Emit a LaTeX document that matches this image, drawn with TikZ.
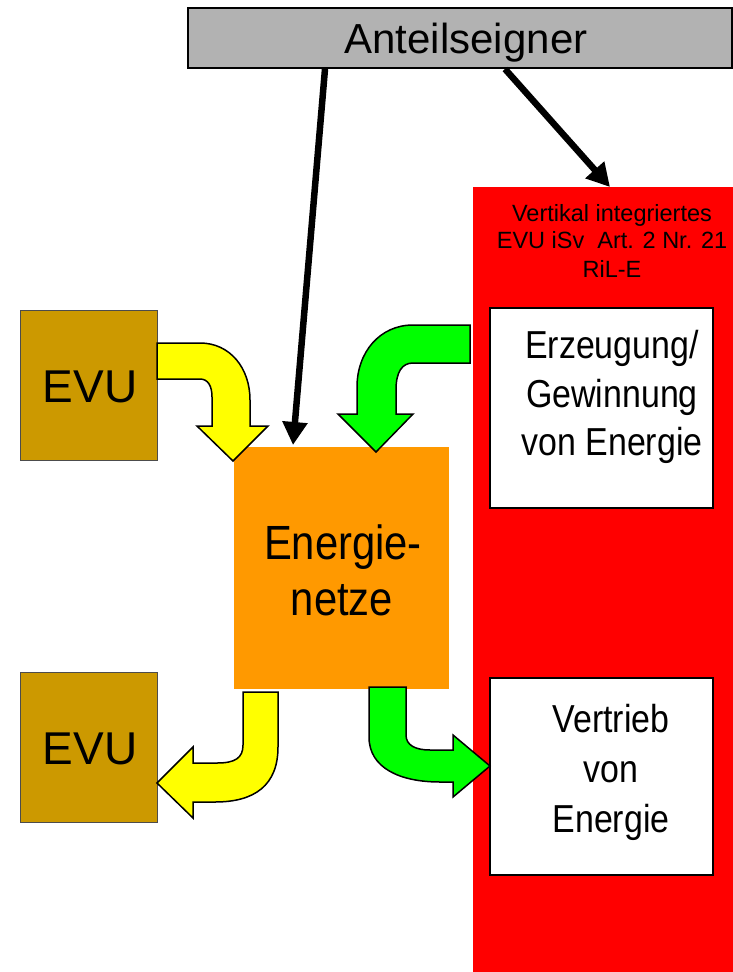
\documentclass[tikz,border=0pt]{standalone}
\usepackage{fontspec}
\setmainfont{Liberation Sans}
\newfontfamily\narrowfont{Liberation Sans}[FakeStretch=0.87]
\usetikzlibrary{arrows.meta}
\definecolor{antgray}{HTML}{B2B2B2}
\definecolor{evubrown}{HTML}{CC9900}
\definecolor{netzorange}{HTML}{FF9900}
\definecolor{arrowyellow}{HTML}{FFFF00}
\definecolor{arrowgreen}{HTML}{00FF00}
\definecolor{evured}{HTML}{FF0000}
\begin{document}
\begin{tikzpicture}[x=1pt,y=-1pt,
  box/.style={inner sep=0pt,outer sep=0pt,anchor=north west},
  outlined/.style={box,draw=black,line width=1.5pt},
  bigtxt/.style={anchor=base,inner sep=0pt,font=\narrowfont\fontsize{39}{39}\selectfont},
  smalltxt/.style={anchor=base,inner sep=0pt,font=\fontsize{23.5}{23.5}\selectfont},
  bentarrow/.style={draw=black,line width=1.5pt,line join=miter},
  blackarrow/.style={line width=6.5pt,-{Triangle[length=23pt,width=24pt]}}]
\useasboundingbox (0,0) rectangle (733,972);
% vertically integrated utility
\node[box,fill=evured,minimum width=260pt,minimum height=785pt] (red) at (473,187) {};
\node[outlined,fill=white,minimum width=223pt,minimum height=200pt] (erz) at (490,308) {};
\node[outlined,fill=white,minimum width=223pt,minimum height=197pt] (vtr) at (490,678) {};
\node[smalltxt] (r1) at (612,221) {Vertikal integriertes};
\node[smalltxt] (r2) at (612,248) {EVU iSv\ \ Art. 2 Nr. 21};
\node[smalltxt] (r3) at (612,277) {RiL-E};
\node[bigtxt] (e1) at (612,358) {Erzeugung/};
\node[bigtxt] (e2) at (612,407) {Gewinnung};
\node[bigtxt] (e3) at (612,455) {von Energie};
\node[bigtxt] (v1) at (611,732) {Vertrieb};
\node[bigtxt] (v2) at (611,782) {von};
\node[bigtxt] (v3) at (611,832) {Energie};
% grid
\node[box,fill=netzorange,minimum width=215pt,minimum height=242pt] (netz) at (234,447) {};
\node[anchor=base,inner sep=0pt,font=\narrowfont\fontsize{48}{48}\selectfont] (n1) at (343,559) {Energie-};
\node[anchor=base,inner sep=0pt,font=\narrowfont\fontsize{48}{48}\selectfont] (n2) at (342,615) {netze};
% EVU boxes
\node[box,draw=black!70,line width=1pt,fill=evubrown,minimum width=137pt,minimum height=150pt] (evu1) at (20,310) {};
\node[box,draw=black!70,line width=1pt,fill=evubrown,minimum width=137pt,minimum height=150pt] (evu2) at (20,672) {};
\node[anchor=base,inner sep=0pt,font=\fontsize{46}{46}\selectfont] (evu1t) at (90,402) {EVU};
\node[anchor=base,inner sep=0pt,font=\fontsize{46}{46}\selectfont] (evu2t) at (90,764) {EVU};
% bent arrows
\draw[bentarrow,fill=arrowyellow] (157,343) -- (200,343) .. controls (230,343) and (250,368) .. (250,400) -- (250,426) -- (268,426) -- (233,461) -- (197,426) -- (212,426) -- (212,397) .. controls (212,386) and (208,379) .. (200,379) -- (157,379) -- cycle;
\draw[bentarrow,fill=arrowgreen] (470,325) -- (413,325) .. controls (380,325) and (357,352) .. (357,387) -- (357,414) -- (338,414) -- (376,452) -- (413,414) -- (396,414) -- (396,390) .. controls (396,372) and (402,363) .. (413,363) -- (470,363) -- cycle;
\draw[bentarrow,fill=arrowyellow] (243,692) -- (278,692) -- (278,747) .. controls (278,785) and (255,802) .. (215,802) -- (193,802) -- (193,818) -- (157,783) -- (193,747) -- (193,763) -- (217,763) .. controls (235,763) and (243,758) .. (243,745) -- cycle;
\draw[bentarrow,fill=arrowgreen] (369,687) -- (406,687) -- (406,735) .. controls (406,745) and (415,750) .. (430,750) -- (453,750) -- (453,735) -- (490,766) -- (453,797) -- (453,782) -- (440,782) .. controls (400,782) and (369,768) .. (369,737) -- cycle;
% shareholders
\node[outlined,fill=antgray,minimum width=544pt,minimum height=60pt] (ant) at (188,8) {};
\node[anchor=base,inner sep=0pt,font=\fontsize{42}{42}\selectfont] (antt) at (466,53) {Anteilseigner};
\coordinate (a1s) at (325,69);
\coordinate (a1e) at (293,445);
\coordinate (a2s) at (505,69);
\coordinate (a2e) at (610,187);
\draw[blackarrow] (a1s) -- (a1e);
\draw[blackarrow] (a2s) -- (a2e);
\end{tikzpicture}
\end{document}
